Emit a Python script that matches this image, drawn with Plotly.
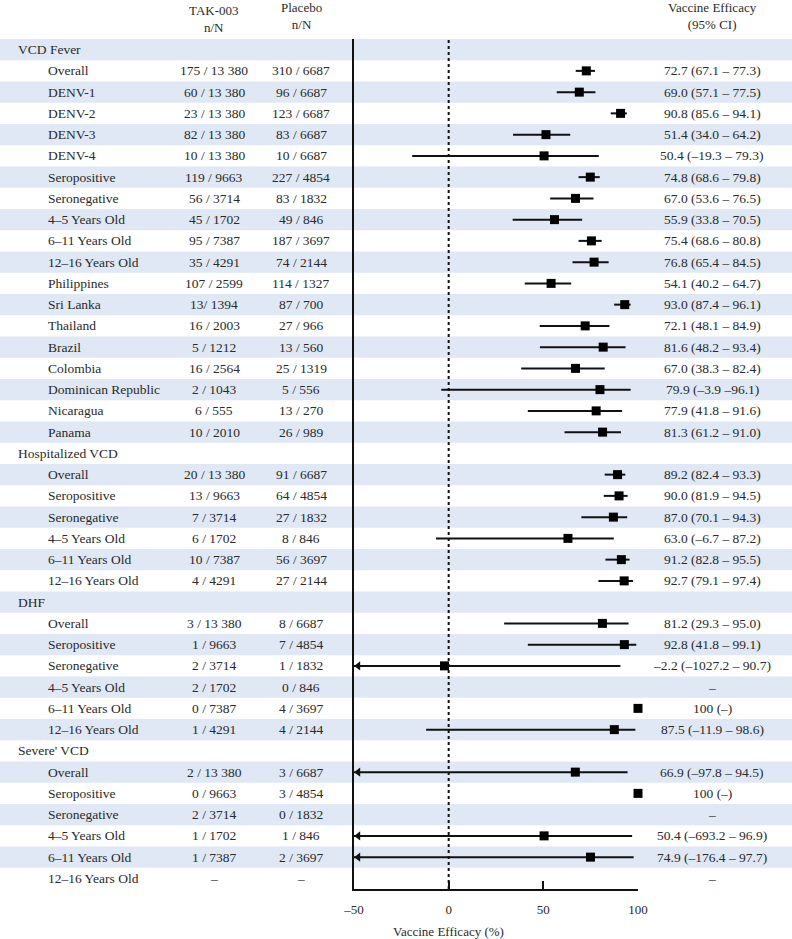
import plotly.graph_objects as go

# ---------------- data ----------------
row_labels = [
    "VCD Fever", "Overall", "DENV-1", "DENV-2", "DENV-3", "DENV-4", "Seropositive", "Seronegative",
    "4–5 Years Old", "6–11 Years Old", "12–16 Years Old", "Philippines", "Sri Lanka", "Thailand",
    "Brazil", "Colombia", "Dominican Republic", "Nicaragua", "Panama",
    "Hospitalized VCD", "Overall", "Seropositive", "Seronegative", "4–5 Years Old", "6–11 Years Old",
    "12–16 Years Old",
    "DHF", "Overall", "Seropositive", "Seronegative", "4–5 Years Old", "6–11 Years Old", "12–16 Years Old",
    "Severe' VCD", "Overall", "Seropositive", "Seronegative", "4–5 Years Old", "6–11 Years Old",
    "12–16 Years Old",
]
is_header = [
    1, 0, 0, 0, 0, 0, 0, 0, 0, 0, 0, 0, 0, 0, 0, 0, 0, 0, 0,
    1, 0, 0, 0, 0, 0, 0,
    1, 0, 0, 0, 0, 0, 0,
    1, 0, 0, 0, 0, 0, 0,
]
tak003_nN = [
    "", "175 / 13 380", "60 / 13 380", "23 / 13 380", "82 / 13 380", "10 / 13 380", "119 / 9663",
    "56 / 3714", "45 / 1702", "95 / 7387", "35 / 4291", "107 / 2599", "13/ 1394", "16 / 2003",
    "5 / 1212", "16 / 2564", "2 / 1043", "6 / 555", "10 / 2010",
    "", "20 / 13 380", "13 / 9663", "7 / 3714", "6 / 1702", "10 / 7387", "4 / 4291",
    "", "3 / 13 380", "1 / 9663", "2 / 3714", "2 / 1702", "0 / 7387", "1 / 4291",
    "", "2 / 13 380", "0 / 9663", "2 / 3714", "1 / 1702", "1 / 7387", "–",
]
placebo_nN = [
    "", "310 / 6687", "96 / 6687", "123 / 6687", "83 / 6687", "10 / 6687", "227 / 4854",
    "83 / 1832", "49 / 846", "187 / 3697", "74 / 2144", "114 / 1327", "87 / 700", "27 / 966",
    "13 / 560", "25 / 1319", "5 / 556", "13 / 270", "26 / 989",
    "", "91 / 6687", "64 / 4854", "27 / 1832", "8 / 846", "56 / 3697", "27 / 2144",
    "", "8 / 6687", "7 / 4854", "1 / 1832", "0 / 846", "4 / 3697", "4 / 2144",
    "", "3 / 6687", "3 / 4854", "0 / 1832", "1 / 846", "2 / 3697", "–",
]
ve = [
    None, 72.7, 69.0, 90.8, 51.4, 50.4, 74.8, 67.0, 55.9, 75.4, 76.8, 54.1, 93.0, 72.1,
    81.6, 67.0, 79.9, 77.9, 81.3,
    None, 89.2, 90.0, 87.0, 63.0, 91.2, 92.7,
    None, 81.2, 92.8, -2.2, None, 100, 87.5,
    None, 66.9, 100, None, 50.4, 74.9, None,
]
ci_low = [
    None, 67.1, 57.1, 85.6, 34.0, -19.3, 68.6, 53.6, 33.8, 68.6, 65.4, 40.2, 87.4, 48.1,
    48.2, 38.3, -3.9, 41.8, 61.2,
    None, 82.4, 81.9, 70.1, -6.7, 82.8, 79.1,
    None, 29.3, 41.8, -1027.2, None, None, -11.9,
    None, -97.8, None, None, -693.2, -176.4, None,
]
ci_high = [
    None, 77.3, 77.5, 94.1, 64.2, 79.3, 79.8, 76.5, 70.5, 80.8, 84.5, 64.7, 96.1, 84.9,
    93.4, 82.4, 96.1, 91.6, 91.0,
    None, 93.3, 94.5, 94.3, 87.2, 95.5, 97.4,
    None, 95.0, 99.1, 90.7, None, None, 98.6,
    None, 94.5, None, None, 96.9, 97.7, None,
]
ve_text = [
    "", "72.7 (67.1 – 77.3)", "69.0 (57.1 – 77.5)", "90.8 (85.6 – 94.1)", "51.4 (34.0 – 64.2)",
    "50.4 (–19.3 – 79.3)", "74.8 (68.6 – 79.8)", "67.0 (53.6 – 76.5)", "55.9 (33.8 – 70.5)",
    "75.4 (68.6 – 80.8)", "76.8 (65.4 – 84.5)", "54.1 (40.2 – 64.7)", "93.0 (87.4 – 96.1)",
    "72.1 (48.1 – 84.9)", "81.6 (48.2 – 93.4)", "67.0 (38.3 – 82.4)", "79.9 (–3.9 –96.1)",
    "77.9 (41.8 – 91.6)", "81.3 (61.2 – 91.0)",
    "", "89.2 (82.4 – 93.3)", "90.0 (81.9 – 94.5)", "87.0 (70.1 – 94.3)", "63.0 (–6.7 – 87.2)",
    "91.2 (82.8 – 95.5)", "92.7 (79.1 – 97.4)",
    "", "81.2 (29.3 – 95.0)", "92.8 (41.8 – 99.1)", "–2.2 (–1027.2 – 90.7)", "–", "100 (–)",
    "87.5 (–11.9 – 98.6)",
    "", "66.9 (–97.8 – 94.5)", "100 (–)", "–", "50.4 (–693.2 – 96.9)", "74.9 (–176.4 – 97.7)", "–",
]
x_ticks = [-50, 0, 50, 100]
x_tick_text = ["–50", "0", "50", "100"]
x_min, x_max = -50, 100

# ---------------- figure ----------------
W, H = 792, 939
FONT = "Liberation Serif"
TXT = "#2a2a2a"
SHADE = "#dfe8f4"
FS = 13.5
n = len(row_labels)
rows = list(range(n))

fig = go.Figure()

# CI lines (clipped by axis range)
lx, ly = [], []
for i in rows:
    if ci_low[i] is not None:
        lx += [ci_low[i], ci_high[i], None]
        ly += [i, i, None]
fig.add_trace(go.Scatter(x=lx, y=ly, mode="lines", line=dict(color="#111", width=2),
                         hoverinfo="skip", showlegend=False))

# arrows for CIs extending past axis minimum
ax_, ay_ = [], []
for i in rows:
    if ci_low[i] is not None and ci_low[i] < x_min:
        ax_.append(x_min + 2.2)
        ay_.append(i)
fig.add_trace(go.Scatter(x=ax_, y=ay_, mode="markers",
                         marker=dict(symbol="triangle-left", size=8, color="#111"),
                         hoverinfo="skip", showlegend=False, cliponaxis=False))

# point estimates
px_, py_ = [], []
for i in rows:
    if ve[i] is not None:
        px_.append(ve[i])
        py_.append(i)
fig.add_trace(go.Scatter(x=px_, y=py_, mode="markers",
                         marker=dict(symbol="square", size=9, color="#000"),
                         showlegend=False, cliponaxis=False))

shapes = []
for i in rows:
    if i % 2 == 0:
        shapes.append(dict(type="rect", xref="paper", yref="y", x0=-0.05, x1=1.05,
                           y0=i - 0.5, y1=i + 0.5, fillcolor=SHADE, line=dict(width=0),
                           layer="below"))
# dotted zero line
shapes.append(dict(type="line", xref="x", yref="paper", x0=0, x1=0, y0=0, y1=1,
                   line=dict(color="#111", width=2, dash="dot")))

annotations = []
def px(p):
    return p / W

for i in rows:
    annotations.append(dict(x=px(16 if is_header[i] else 46), y=i, xref="paper", yref="y",
                            text=row_labels[i], showarrow=False, xanchor="left",
                            yanchor="middle", font=dict(family=FONT, size=FS, color=TXT)))
    for xc, col in [(214, tak003_nN), (301, placebo_nN), (712, ve_text)]:
        if col[i]:
            annotations.append(dict(x=px(xc), y=i, xref="paper", yref="y", text=col[i],
                                    showarrow=False, xanchor="center", yanchor="middle",
                                    font=dict(family=FONT, size=FS, color=TXT)))

# column headers
for xc, txt, ys in [(214, "TAK-003<br>n/N", 2), (301, "Placebo<br>n/N", 5),
                    (712, "Vaccine Efficacy<br>(95% CI)", 5)]:
    annotations.append(dict(x=px(xc), y=1, xref="paper", yref="paper", text=txt,
                            showarrow=False, xanchor="center", yanchor="bottom", yshift=ys,
                            font=dict(family=FONT, size=13, color=TXT)))

# x-axis title centered on zero
annotations.append(dict(x=0, y=0, xref="x", yref="paper", text="Vaccine Efficacy (%)",
                        showarrow=False, xanchor="center", yanchor="middle", yshift=-42,
                        font=dict(family=FONT, size=13, color=TXT)))

fig.update_layout(
    width=W, height=H, autosize=False,
    margin=dict(l=0, r=0, t=39, b=50, autoexpand=False),
    paper_bgcolor="white", plot_bgcolor="rgba(0,0,0,0)",
    shapes=shapes, annotations=annotations,
    xaxis=dict(domain=[354 / W, 638 / W], range=[x_min, x_max], tickvals=x_ticks,
               ticktext=x_tick_text, automargin=False,
               showgrid=False, zeroline=False, showline=True, linecolor="#111", linewidth=2,
               ticks="inside", ticklen=8, tickwidth=2, tickcolor="#111", ticklabelstandoff=7,
               tickfont=dict(family=FONT, size=13, color=TXT), fixedrange=True),
    yaxis=dict(range=[n - 0.5, -0.5], showticklabels=False, showgrid=False, zeroline=False,
               showline=True, linecolor="#111", linewidth=2, ticks="", fixedrange=True,
               automargin=False),
    font=dict(family=FONT),
)

fig.write_html(
    "out.html",
    config={"responsive": False, "displayModeBar": False},
    post_script="document.body.style.margin='0';document.body.style.overflow='hidden';",
)
